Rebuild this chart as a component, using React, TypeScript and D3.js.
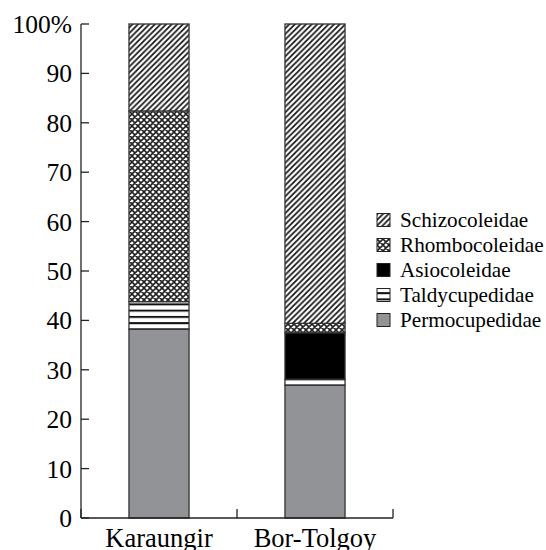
import { useEffect, useRef } from "react";
import * as d3 from "d3";

// sites on the x axis
const sites = ["Karaungir", "Bor-Tolgoy"];

// families, bottom to top in the stacks
const families = ["Permocupedidae", "Taldycupedidae", "Asiocoleidae", "Rhombocoleidae", "Schizocoleidae"];

// percent share per family, same order as sites
const permocupedidae = [38.2, 26.9];
const taldycupedidae = [5.6, 1.2];
const asiocoleidae = [0, 9.4];
const rhombocoleidae = [38.6, 1.9];
const schizocoleidae = [17.6, 60.6];

const yTicks = [0, 10, 20, 30, 40, 50, 60, 70, 80, 90, 100];

const fills: Record<string, string> = {
    Permocupedidae: "#929397",
    Taldycupedidae: "url(#pat-horiz)",
    Asiocoleidae: "#000",
    Rhombocoleidae: "url(#pat-cross)",
    Schizocoleidae: "url(#pat-diag)",
};

export default function App() {
    const svgRef = useRef<SVGSVGElement>(null);

    useEffect(() => {
        const svg = d3.select(svgRef.current);
        svg.selectAll("*").remove();

        const left = 81, right = 393, top = 24, bottom = 518;

        // build rows for the stack
        const rows = sites.map((s, i) => ({
            site: s,
            Permocupedidae: permocupedidae[i],
            Taldycupedidae: taldycupedidae[i],
            Asiocoleidae: asiocoleidae[i],
            Rhombocoleidae: rhombocoleidae[i],
            Schizocoleidae: schizocoleidae[i],
        }));
        const series = d3.stack<any>().keys(families)(rows);

        const x = d3.scaleBand().domain(sites).range([left, right]);
        const barW = x.bandwidth() * 0.385;
        const y = d3.scaleLinear().domain([0, 100]).range([bottom, top]);

        // patterns
        const defs = svg.append("defs");
        const diag = defs.append("pattern").attr("id", "pat-diag")
            .attr("patternUnits", "userSpaceOnUse").attr("width", 5.6).attr("height", 5.6);
        diag.append("rect").attr("width", 5.6).attr("height", 5.6).attr("fill", "#fff");
        diag.append("path").attr("d", "M-1,1 l2,-2 M0,5.6 l5.6,-5.6 M4.6,6.6 l2,-2")
            .attr("stroke", "#111").attr("stroke-width", 1.7);

        const cross = defs.append("pattern").attr("id", "pat-cross")
            .attr("patternUnits", "userSpaceOnUse").attr("width", 6).attr("height", 6);
        cross.append("rect").attr("width", 6).attr("height", 6).attr("fill", "#fff");
        cross.append("path").attr("d", "M-1,1 l2,-2 M0,6 l6,-6 M5,7 l2,-2 M-1,5 l2,2 M0,0 l6,6 M5,-1 l2,2")
            .attr("stroke", "#222").attr("stroke-width", 1.6);

        const horiz = defs.append("pattern").attr("id", "pat-horiz")
            .attr("patternUnits", "userSpaceOnUse").attr("width", 6).attr("height", 6.25)
            .attr("y", 303.4);
        horiz.append("rect").attr("width", 6).attr("height", 6.25).attr("fill", "#fff");
        horiz.append("rect").attr("y", 0).attr("width", 6).attr("height", 2).attr("fill", "#111");

        // bars
        series.forEach(layer => {
            svg.append("g").selectAll("rect")
                .data(layer.filter(d => d[1] - d[0] > 0))
                .join("rect")
                .attr("x", d => (x(d.data.site) as number) + (x.bandwidth() - barW) / 2)
                .attr("y", d => y(d[1]))
                .attr("width", barW)
                .attr("height", d => y(d[0]) - y(d[1]))
                .attr("fill", fills[layer.key])
                .attr("stroke", "#333")
                .attr("stroke-width", 1.3);
        });

        // y axis
        const axis = svg.append("g").attr("stroke", "#222").attr("stroke-width", 1.3);
        axis.append("line").attr("x1", left).attr("x2", left).attr("y1", top).attr("y2", bottom);
        axis.selectAll(".yt").data(yTicks).join("line")
            .attr("x1", left).attr("x2", left + 8)
            .attr("y1", d => y(d)).attr("y2", d => y(d));

        svg.append("g").selectAll("text").data(yTicks).join("text")
            .attr("x", left - 9)
            .attr("y", d => y(d))
            .attr("dy", "0.35em")
            .attr("text-anchor", "end")
            .attr("font-size", 25.5)
            .text(d => d === 100 ? "100%" : String(d));

        // x axis
        axis.append("line").attr("x1", left).attr("x2", right).attr("y1", bottom).attr("y2", bottom);
        const xEdges = [...sites.map(s => x(s) as number), right];
        axis.selectAll(".xt").data(xEdges).join("line")
            .attr("x1", d => d).attr("x2", d => d)
            .attr("y1", bottom).attr("y2", bottom - 9);

        svg.append("g").selectAll("text").data(sites).join("text")
            .attr("x", d => (x(d) as number) + x.bandwidth() / 2)
            .attr("y", 547)
            .attr("text-anchor", "middle")
            .attr("font-size", 26.5)
            .text(d => d);

        // legend, top entry first
        const legendOrder = families.slice().reverse();
        const lg = svg.append("g").attr("transform", "translate(377,220)");
        legendOrder.forEach((f, i) => {
            const row = lg.append("g").attr("transform", `translate(0,${i * 25})`);
            row.append("rect").attr("x", 0).attr("y", -6.5).attr("width", 13).attr("height", 13)
                .attr("fill", fills[f]).attr("stroke", "#222").attr("stroke-width", 1);
            row.append("text").attr("x", 23).attr("y", 0).attr("dy", "0.35em")
                .attr("font-size", 21.2)
                .text(f);
        });
    }, []);

    return (
        <svg ref={svgRef} width={546} height={550}
            fontFamily="Liberation Serif"
            style={{ position: "absolute", left: 0, top: 0, background: "#fff" }} />
    );
}
